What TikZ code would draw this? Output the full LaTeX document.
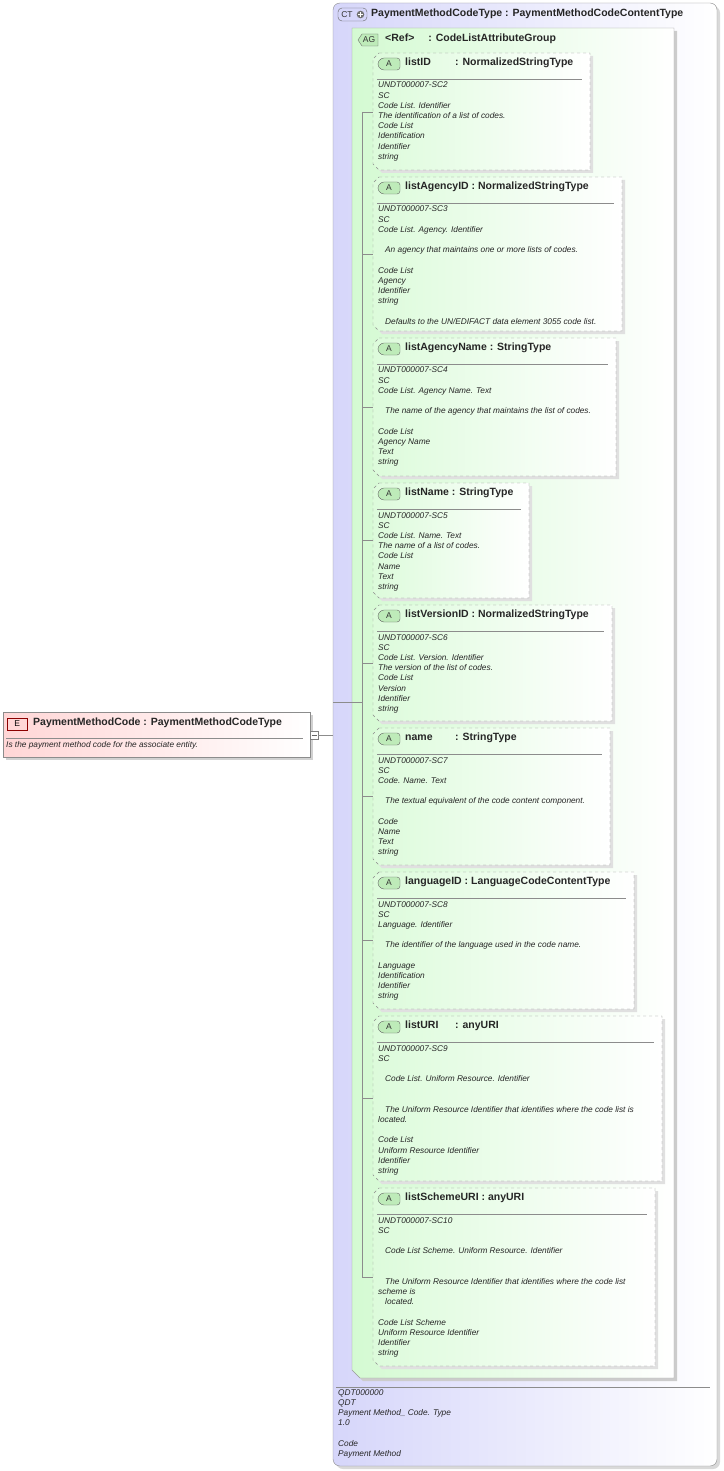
\documentclass[tikz,border=0pt]{standalone}
\usepackage{fontspec}
\setmainfont{Liberation Sans}
\begin{document}
\begin{tikzpicture}[x=1pt,y=-1pt,
  body/.style={anchor=north west,inner sep=0pt,align=left,font=\fontsize{8.3}{10.2}\selectfont\itshape,text=black!85},
  ttl/.style={anchor=west,inner sep=0pt,font=\fontsize{10.5}{12}\selectfont\bfseries,text=black!85},
  tree/.style={draw=black!45,line width=0.5pt}]
\definecolor{ctfill}{RGB}{214,214,250}
\definecolor{agfill}{RGB}{212,250,210}
\definecolor{efill}{RGB}{255,214,214}
\definecolor{icong}{RGB}{190,235,185}
\useasboundingbox (0,0) rectangle (723,1471);
% CT box
\fill[black!15,rounded corners=7] (336,6) rectangle (720,1469);
\shade[left color=ctfill,right color=white,rounded corners=7,draw=black!45] (333,3) rectangle (717,1466);
\draw[draw=black!60,fill=ctfill,rounded corners=4] (338,8) rectangle (367,21);
\node[inner sep=0pt,font=\fontsize{8.5}{9}\selectfont,text=black!80] (cticon) at (347,14.5) {CT};
\fill[black!55] (360.5,14.5) circle (3.8);
\draw[white,line width=0.9pt] (358.2,14.5)--(362.8,14.5) (360.5,12.2)--(360.5,16.8);
\node[ttl] (ct) at (371,14) {PaymentMethodCodeType : PaymentMethodCodeContentType};
% footer
\draw[black!45] (336,1387) -- (710,1387);
\node[body,anchor=north west] (foot) at (338,1389) {QDT000000\\QDT\\Payment Method\_ Code. Type\\1.0\\\mbox{}\\Code\\Payment Method};
% AG box
\fill[black!20] (355,31) -- (677,31) -- (677,1381) -- (363,1381) -- (355,1373) -- cycle;
\shade[left color=agfill,right color=white,draw=black!40] (352,28) -- (674,28) -- (674,1378) -- (360,1378) -- (352,1370) -- cycle;
\draw[draw=black!60,fill=icong] (362,34) -- (378,34) -- (378,46) -- (362,46) -- (358,40) -- cycle;
\node[inner sep=0pt,font=\fontsize{8.5}{9}\selectfont,text=black!80] (agicon) at (369,40) {AG};
\node[ttl] (ag) at (385,39) {<Ref>\hspace{14pt}: CodeListAttributeGroup};
% tree
\coordinate (tv1) at (362,112);
\coordinate (tv2) at (362,1277);
\coordinate (tm) at (362,702);
\coordinate (ctl) at (333,702);
\draw[tree] (tv1) -- (tv2);
\draw[tree] (ctl) -- (tm);
\newcommand\attrbox[8]{%
  \fill[black!12] (#2+3,#3+3) -- (#4+3,#3+3) -- (#4+3,#5+3) -- (#2+9,#5+3) -- (#2+3,#5-3) -- (#2+3,#3+9) -- cycle;
  \shade[left color=agfill!80,right color=white,draw=black!45,dashed] (#2+6,#3) -- (#4,#3) -- (#4,#5) -- (#2+6,#5) -- (#2,#5-6) -- (#2,#3+6) -- cycle;
  \draw[draw=black!60,fill=icong,rounded corners=3] (381,#3+5) -- (400,#3+5) -- (400,#3+17) -- (381,#3+17) -- (377,#3+11) -- cycle;
  \node[inner sep=0pt,font=\fontsize{8.5}{9}\selectfont,text=black!80] (#1i) at (389,#3+11) {A};
  \node[ttl] (#1t) at (405,#3+10) {#6};
  \draw[black!45] (377,#3+26) -- (#4-8,#3+26);
  \node[body] (#1b) at (378,#3+29) {#8};
  \coordinate (#1k) at (373,#7);
  \draw[tree] (362,#7) -- (#1k);
}
\attrbox{a1}{373}{53}{590}{170}{\makebox[50pt][l]{listID}: NormalizedStringType}{112}{UNDT000007-SC2\\SC\\Code List. Identifier\\The identification of a list of codes.\\Code List\\Identification\\Identifier\\string}
\attrbox{a2}{373}{177}{622}{331}{listAgencyID : NormalizedStringType}{254}{UNDT000007-SC3\\SC\\Code List. Agency. Identifier\\\mbox{}\\\hspace*{7pt}An agency that maintains one or more lists of codes.\\\mbox{}\\Code List\\Agency\\Identifier\\string\\\mbox{}\\\hspace*{7pt}Defaults to the UN/EDIFACT data element 3055 code list.}
\attrbox{a3}{373}{338}{616}{476}{listAgencyName : StringType}{407}{UNDT000007-SC4\\SC\\Code List. Agency Name. Text\\\mbox{}\\\hspace*{7pt}The name of the agency that maintains the list of codes.\\\mbox{}\\Code List\\Agency Name\\Text\\string}
\attrbox{a4}{373}{483}{529}{598}{listName : StringType}{540}{UNDT000007-SC5\\SC\\Code List. Name. Text\\The name of a list of codes.\\Code List\\Name\\Text\\string}
\attrbox{a5}{373}{605}{612}{721}{listVersionID : NormalizedStringType}{663}{UNDT000007-SC6\\SC\\Code List. Version. Identifier\\The version of the list of codes.\\Code List\\Version\\Identifier\\string}
\attrbox{a6}{373}{728}{610}{865}{\makebox[50pt][l]{name}: StringType}{796}{UNDT000007-SC7\\SC\\Code. Name. Text\\\mbox{}\\\hspace*{7pt}The textual equivalent of the code content component.\\\mbox{}\\Code\\Name\\Text\\string}
\attrbox{a7}{373}{872}{634}{1009}{languageID : LanguageCodeContentType}{940}{UNDT000007-SC8\\SC\\Language. Identifier\\\mbox{}\\\hspace*{7pt}The identifier of the language used in the code name.\\\mbox{}\\Language\\Identification\\Identifier\\string}
\attrbox{a8}{373}{1016}{662}{1181}{\makebox[50pt][l]{listURI}: anyURI}{1098}{UNDT000007-SC9\\SC\\\mbox{}\\\hspace*{7pt}Code List. Uniform Resource. Identifier\\\mbox{}\\\mbox{}\\\hspace*{7pt}The Uniform Resource Identifier that identifies where the code list is\\located.\\\mbox{}\\Code List\\Uniform Resource Identifier\\Identifier\\string}
\attrbox{a9}{373}{1188}{655}{1366}{listSchemeURI : anyURI}{1277}{UNDT000007-SC10\\SC\\\mbox{}\\\hspace*{7pt}Code List Scheme. Uniform Resource. Identifier\\\mbox{}\\\mbox{}\\\hspace*{7pt}The Uniform Resource Identifier that identifies where the code list\\scheme is\\\hspace*{7pt}located.\\\mbox{}\\Code List Scheme\\Uniform Resource Identifier\\Identifier\\string}
% E box
\fill[black!18] (6,715) rectangle (313,760);
\shade[left color=efill,right color=white,draw=black!45] (3,712) rectangle (310,757);
\node[draw=red!55!black,fill=efill,minimum width=20,minimum height=12,inner sep=0pt,anchor=west,font=\fontsize{8.5}{9}\selectfont] (eicon) at (7,724) {E};
\node[ttl] (e) at (33,723) {PaymentMethodCode : PaymentMethodCodeType};
\draw[black!45] (6,738) -- (303,738);
\node[body] (edesc) at (6,741) {Is the payment method code for the associate entity.};
\node[draw=black!50,fill=white,minimum size=8,inner sep=0pt] (minus) at (314,735) {};
\draw[black!60] (311.5,735) -- (316.5,735);
\coordinate (ctin) at (333,735);
\draw[tree] (minus.east) -- (ctin);
\end{tikzpicture}
\end{document}
